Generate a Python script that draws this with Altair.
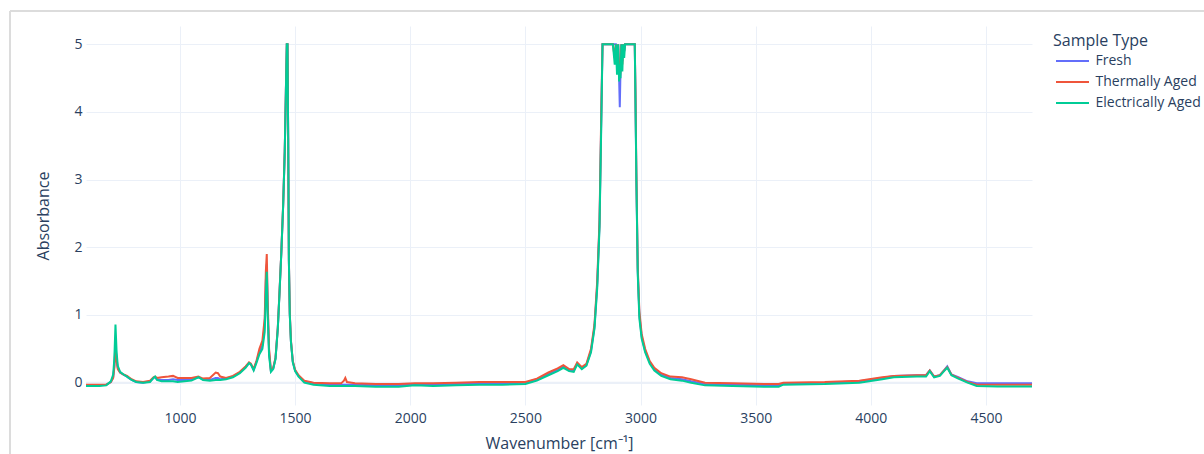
import altair as alt
import pandas as pd

# ---- data ----
series_names = ["Fresh", "Thermally Aged", "Electrically Aged"]
series_colors = ["#636EFA", "#EF553B", "#00CC96"]

wavenumber = [
    592, 620, 650, 680, 700, 710, 715, 720, 725, 730, 740, 755, 770, 790, 810,
    840, 870, 885, 892, 900, 920, 950, 970, 990, 1020, 1050, 1080, 1100, 1130,
    1155, 1165, 1175, 1200, 1230, 1260, 1285, 1300, 1308, 1320, 1333, 1345,
    1358, 1368, 1373, 1377, 1381, 1387, 1395, 1405, 1415, 1425, 1432, 1440,
    1448, 1455, 1460, 1464, 1467, 1470, 1473, 1477, 1482, 1490, 1500, 1515,
    1540, 1580, 1650, 1700, 1712, 1718, 1725, 1760, 1850, 1950, 2020, 2100,
    2200, 2300, 2400, 2500, 2550, 2600, 2640, 2665, 2690, 2710, 2725, 2745,
    2765, 2785, 2800, 2812, 2822, 2830, 2835, 2880, 2888, 2893, 2898, 2903,
    2907, 2910, 2913, 2917, 2921, 2925, 2929, 2933, 2975, 2978, 2982, 2988,
    2995, 3005, 3020, 3040, 3060, 3090, 3130, 3180, 3220, 3280, 3400, 3550,
    3600, 3620, 3800, 3950, 4050, 4100, 4200, 4240, 4256, 4275, 4300, 4318,
    4332, 4350, 4380, 4420, 4460, 4550, 4700,
]

electrically_aged = [
    -0.05, -0.05, -0.05, -0.04, 0.02, 0.12, 0.35, 0.86, 0.45, 0.25, 0.16, 0.12,
    0.09, 0.04, 0.01, 0.0, 0.01, 0.07, 0.09, 0.04, 0.02, 0.02, 0.02, 0.01, 0.02,
    0.03, 0.08, 0.04, 0.03, 0.04, 0.04, 0.04, 0.05, 0.08, 0.14, 0.22, 0.29,
    0.27, 0.18, 0.30, 0.42, 0.50, 0.75, 1.30, 1.64, 1.00, 0.40, 0.16, 0.20,
    0.35, 0.80, 1.30, 1.90, 2.60, 3.40, 4.30, 5.0, 5.0, 3.60, 1.80, 1.00, 0.60,
    0.30, 0.17, 0.09, 0.00, -0.03, -0.05, -0.05, -0.05, -0.05, -0.05, -0.05,
    -0.06, -0.06, -0.04, -0.05, -0.04, -0.03, -0.03, -0.02, 0.03, 0.11, 0.17,
    0.22, 0.17, 0.16, 0.27, 0.20, 0.25, 0.45, 0.80, 1.40, 2.30, 3.90, 5.0, 5.0,
    4.70, 5.0, 4.55, 5.0, 4.45, 4.70, 4.50, 5.0, 4.60, 5.0, 4.80, 5.0, 5.0,
    4.20, 3.00, 1.60, 0.95, 0.65, 0.45, 0.28, 0.18, 0.10, 0.05, 0.03, 0.00,
    -0.04, -0.05, -0.06, -0.06, -0.03, -0.02, 0.00, 0.05, 0.08, 0.09, 0.09,
    0.17, 0.08, 0.10, 0.17, 0.22, 0.11, 0.06, 0.00, -0.05, -0.055, -0.055,
]

fresh = [
    -0.04, -0.04, -0.04, -0.03, 0.01, 0.08, 0.25, 0.60, 0.35, 0.22, 0.15, 0.12,
    0.09, 0.04, 0.01, 0.0, 0.02, 0.07, 0.08, 0.05, 0.04, 0.04, 0.05, 0.04, 0.04,
    0.05, 0.08, 0.05, 0.04, 0.07, 0.07, 0.05, 0.06, 0.09, 0.15, 0.23, 0.29,
    0.27, 0.19, 0.32, 0.45, 0.55, 0.85, 1.50, 1.75, 1.10, 0.45, 0.17, 0.21,
    0.36, 0.81, 1.31, 1.91, 2.61, 3.41, 4.31, 5.0, 5.0, 3.61, 1.81, 1.01, 0.61,
    0.31, 0.18, 0.10, 0.02, -0.01, -0.03, -0.03, -0.03, -0.03, -0.03, -0.03,
    -0.04, -0.04, -0.03, -0.03, -0.02, -0.01, -0.01, 0.00, 0.05, 0.13, 0.19,
    0.24, 0.18, 0.18, 0.28, 0.21, 0.26, 0.47, 0.82, 1.45, 2.35, 4.00, 5.0, 5.0,
    5.0, 5.0, 4.80, 5.0, 4.50, 4.07, 4.60, 5.0, 4.75, 5.0, 4.90, 5.0, 5.0,
    4.20, 3.00, 1.65, 1.00, 0.68, 0.47, 0.30, 0.20, 0.12, 0.07, 0.05, 0.02,
    -0.02, -0.03, -0.04, -0.04, -0.01, 0.00, 0.02, 0.07, 0.10, 0.11, 0.11,
    0.18, 0.09, 0.11, 0.18, 0.24, 0.12, 0.08, 0.02, -0.01, -0.01, -0.01,
]

thermally_aged = [
    -0.03, -0.03, -0.03, -0.03, 0.01, 0.07, 0.22, 0.52, 0.32, 0.20, 0.15, 0.12,
    0.10, 0.05, 0.02, 0.01, 0.03, 0.08, 0.09, 0.07, 0.08, 0.09, 0.10, 0.07, 0.07,
    0.07, 0.09, 0.06, 0.07, 0.15, 0.14, 0.09, 0.07, 0.10, 0.16, 0.24, 0.30,
    0.28, 0.20, 0.33, 0.50, 0.62, 0.95, 1.65, 1.90, 1.20, 0.50, 0.18, 0.22,
    0.37, 0.82, 1.32, 1.92, 2.62, 3.42, 4.32, 5.0, 5.0, 3.62, 1.82, 1.02, 0.62,
    0.32, 0.19, 0.11, 0.03, 0.00, -0.01, -0.01, 0.03, 0.07, 0.01, -0.01,
    -0.02, -0.02, -0.01, -0.01, 0.00, 0.01, 0.01, 0.01, 0.06, 0.15, 0.21,
    0.26, 0.20, 0.20, 0.30, 0.23, 0.28, 0.50, 0.86, 1.50, 2.40, 4.10, 5.0, 5.0,
    4.80, 5.0, 4.70, 5.0, 4.60, 4.50, 4.60, 5.0, 4.70, 5.0, 4.90, 5.0, 5.0,
    4.30, 3.10, 1.70, 1.05, 0.72, 0.50, 0.32, 0.22, 0.14, 0.09, 0.08, 0.05,
    0.00, -0.01, -0.02, -0.02, 0.00, 0.01, 0.03, 0.08, 0.10, 0.11, 0.11,
    0.18, 0.09, 0.11, 0.18, 0.23, 0.12, 0.07, 0.01, -0.03, -0.03, -0.03,
]

x_ticks = [1000, 1500, 2000, 2500, 3000, 3500, 4000, 4500]
y_ticks = [0, 1, 2, 3, 4, 5]

rows = []
for name, vals in zip(series_names, [fresh, thermally_aged, electrically_aged]):
    for w, a in zip(wavenumber, vals):
        rows.append({"Wavenumber": w, "Absorbance": a, "Sample Type": name})
df = pd.DataFrame(rows)

FONT = "Open Sans"
TXT = "#2a3f5f"
GRID = "#EBF0F8"

x_scale = alt.Scale(domain=[592, 4700], nice=False, zero=False)
y_scale = alt.Scale(domain=[-0.33, 5.27], nice=False, zero=False)

x_axis = alt.Axis(
    values=x_ticks,
    format="d",
    title="Wavenumber [cm⁻¹]",
    labelPadding=6,
    titleX=473,
    titleY=38,
    titleBaseline="middle",
    titleAlign="center",
)
y_axis = alt.Axis(
    values=y_ticks,
    format="d",
    title="Absorbance",
    labelPadding=4,
    titleAngle=270,
    titleX=-43,
    titleY=189.5,
    titleAlign="center",
    titleBaseline="middle",
)

lines = alt.Chart(df).mark_line(strokeWidth=2, clip=True).encode(
    x=alt.X("Wavenumber:Q", scale=x_scale, axis=x_axis),
    y=alt.Y("Absorbance:Q", scale=y_scale, axis=y_axis),
    color=alt.Color(
        "Sample Type:N",
        scale=alt.Scale(domain=series_names, range=series_colors),
        legend=alt.Legend(
            title="Sample Type",
            orient="none",
            legendX=967,
            legendY=7,
            padding=0,
            symbolType="M-3,0H3",
            symbolSize=121,
            symbolStrokeWidth=2,
            symbolOffset=12.5,
            labelOffset=16,
            rowPadding=7,
            titlePadding=5,
        ),
    ),
)

zero_line = alt.Chart(pd.DataFrame({"Absorbance": [0]})).mark_rule(
    color=GRID, strokeWidth=2
).encode(y=alt.Y("Absorbance:Q", scale=y_scale, axis=y_axis))

frame_data = pd.DataFrame({"k": [0]})
frame_top = alt.Chart(frame_data).mark_rule(color="#dcdcdc", strokeWidth=2).encode(
    x=alt.value(-76), x2=alt.value(1118), y=alt.value(-15)
)
frame_left = alt.Chart(frame_data).mark_rule(color="#dcdcdc", strokeWidth=2).encode(
    x=alt.value(-76), y=alt.value(-15), y2=alt.value(428)
)

chart = (
    alt.layer(zero_line, lines, frame_top, frame_left)
    .properties(
        width=946,
        height=379,
        autosize=alt.AutoSizeParams(type="none"),
        padding={"left": 86, "top": 26, "right": 172, "bottom": 49},
        background="white",
    )
    .configure_view(stroke=None)
    .configure_axis(
        grid=True,
        gridColor=GRID,
        gridWidth=1,
        domain=False,
        ticks=False,
        tickSize=0,
        labelFont=FONT,
        labelFontSize=14,
        labelColor=TXT,
        titleFont=FONT,
        titleFontSize=16,
        titleFontWeight="normal",
        titleColor=TXT,
    )
    .configure_legend(
        titleFont=FONT,
        titleFontSize=16,
        titleFontWeight="normal",
        titleColor=TXT,
        labelFont=FONT,
        labelFontSize=14,
        labelColor=TXT,
    )
)

chart.save("out.html", embed_options={"renderer": "svg", "actions": False})
